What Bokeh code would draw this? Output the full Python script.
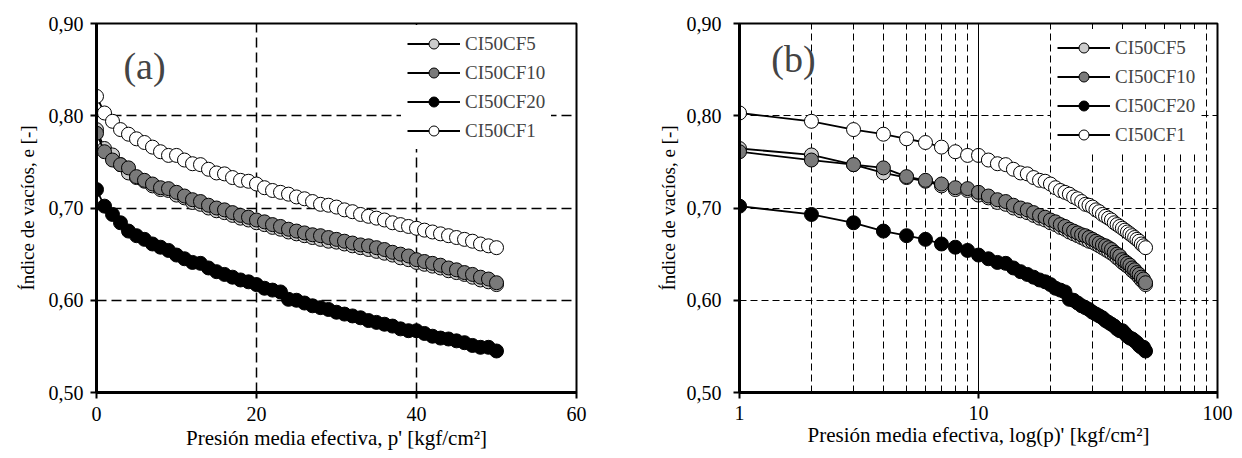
from bokeh.plotting import figure
from bokeh.models import (Range1d, FixedTicker, CustomJSTickFormatter, Legend,
                          LegendItem, Label, Span, ColumnDataSource)
from bokeh.layouts import row
from bokeh.embed import file_html
from bokeh.resources import INLINE

# ---------------- data ----------------
pressure = list(range(0, 51))  # p' [kgf/cm2]

ci50cf5 = [0.785, 0.7645, 0.7575, 0.747, 0.738, 0.733, 0.729, 0.724, 0.720, 0.719,
           0.714, 0.711, 0.706, 0.704, 0.700, 0.697, 0.695, 0.692, 0.689, 0.687,
           0.684, 0.682, 0.679, 0.677, 0.674, 0.672, 0.670, 0.668, 0.666, 0.664,
           0.663, 0.661, 0.659, 0.657, 0.655, 0.653, 0.651, 0.649, 0.646, 0.644,
           0.641, 0.639, 0.637, 0.635, 0.632, 0.630, 0.628, 0.625, 0.622, 0.620,
           0.617]
ci50cf10 = [0.781, 0.761, 0.752, 0.747, 0.7435, 0.734, 0.730, 0.726, 0.722, 0.721,
            0.717, 0.713, 0.709, 0.707, 0.703, 0.700, 0.698, 0.695, 0.692, 0.690,
            0.687, 0.685, 0.682, 0.680, 0.677, 0.675, 0.673, 0.671, 0.670, 0.668,
            0.666, 0.664, 0.662, 0.660, 0.659, 0.657, 0.655, 0.652, 0.650, 0.648,
            0.644, 0.642, 0.640, 0.638, 0.635, 0.633, 0.630, 0.628, 0.625, 0.623,
            0.619]
ci50cf20 = [0.720, 0.702, 0.693, 0.684, 0.675, 0.670, 0.666, 0.661, 0.6575, 0.654,
            0.649, 0.645, 0.641, 0.640, 0.635, 0.631, 0.628, 0.625, 0.622, 0.620,
            0.617, 0.613, 0.611, 0.609, 0.601, 0.600, 0.597, 0.594, 0.592, 0.590,
            0.587, 0.585, 0.583, 0.581, 0.578, 0.576, 0.574, 0.572, 0.569, 0.567,
            0.567, 0.564, 0.561, 0.559, 0.558, 0.556, 0.554, 0.551, 0.549, 0.549,
            0.545]
ci50cf1 = [0.821, 0.803, 0.794, 0.785, 0.780, 0.775, 0.771, 0.766, 0.761, 0.757,
           0.757, 0.752, 0.748, 0.747, 0.742, 0.738, 0.737, 0.733, 0.730, 0.729,
           0.726, 0.722, 0.719, 0.717, 0.715, 0.712, 0.710, 0.707, 0.704, 0.703,
           0.701, 0.698, 0.696, 0.693, 0.691, 0.689, 0.687, 0.684, 0.682, 0.680,
           0.678, 0.676, 0.674, 0.672, 0.670, 0.668, 0.666, 0.664, 0.661, 0.659,
           0.657]

series_names = ["CI50CF5", "CI50CF10", "CI50CF20", "CI50CF1"]
series_values = [ci50cf5, ci50cf10, ci50cf20, ci50cf1]
series_fills = ["#cccccc", "#7a7a7a", "#000000", "#ffffff"]

y_ticks = [0.5, 0.6, 0.7, 0.8, 0.9]
y_grid = [0.6, 0.7, 0.8]
lin_x_ticks = [0, 20, 40, 60]
lin_x_grid = [20, 40]
log_x_ticks = [1, 10, 100]
log_x_grid = [2, 3, 4, 5, 6, 7, 8, 9, 20, 30, 40, 50, 60, 70, 80, 90]

FONT = "Liberation Serif"
y_title = "Índice de vacíos, e [-]"


def style(p, xlabel):
    p.outline_line_color = "black"
    p.outline_line_width = 2
    p.outline_line_alpha = 1
    for ax in (p.xaxis[0], p.yaxis[0]):
        ax.axis_line_width = 3
        ax.axis_line_color = "black"
        ax.major_tick_line_color = "black"
        ax.major_tick_line_width = 2
        ax.major_tick_in = 0
        ax.major_tick_out = 6
        ax.minor_tick_in = 0
        ax.minor_tick_out = 0
        ax.major_label_text_font = FONT
        ax.major_label_text_font_size = "20px"
        ax.major_label_text_color = "black"
        ax.axis_label_text_font = FONT
        ax.axis_label_text_font_style = "normal"
        ax.axis_label_text_color = "black"
    p.xaxis[0].axis_label_text_font_size = "21px"
    p.yaxis[0].axis_label_text_font_size = "19px"
    p.yaxis[0].ticker = FixedTicker(ticks=y_ticks)
    p.yaxis[0].formatter = CustomJSTickFormatter(
        code="return tick.toFixed(2).replace('.', ',');")
    p.yaxis[0].axis_label = y_title
    p.xaxis[0].axis_label = xlabel
    p.ygrid.ticker = FixedTicker(ticks=y_grid)
    p.ygrid.grid_line_color = "black"
    p.ygrid.grid_line_dash = "10 5"
    p.ygrid.grid_line_width = 1.5


def add_series(p, xs, ys_list):
    items = []
    for name, ys, fill in zip(series_names, ys_list, series_fills):
        src = ColumnDataSource(dict(x=xs, y=ys))
        ln = p.line("x", "y", source=src, line_color="black", line_width=1.8)
        sc = p.scatter("x", "y", source=src, size=14, fill_color=fill,
                       line_color="black", line_width=1)
        items.append(LegendItem(label=name, renderers=[ln, sc]))
    return items


def make_legend(items, loc):
    lg = Legend(items=items, location=loc, glyph_width=53, glyph_height=25,
                label_height=25, spacing=4, padding=6, label_standoff=5,
                label_text_font=FONT, label_text_font_size="19px",
                border_line_alpha=0, background_fill_color="white",
                background_fill_alpha=1, margin=0)
    return lg


# ---------------- panel (a) ----------------
pa = figure(width=600, height=458, x_range=Range1d(0, 60),
            y_range=Range1d(0.5, 0.9), output_backend="svg",
            toolbar_location=None, min_border_left=96, min_border_right=24,
            min_border_top=19, min_border_bottom=66)
style(pa, "Presión media efectiva, p' [kgf/cm²]")
pa.xaxis[0].ticker = FixedTicker(ticks=lin_x_ticks)
pa.xgrid.ticker = FixedTicker(ticks=lin_x_grid)
pa.xgrid.grid_line_color = "black"
pa.xgrid.grid_line_dash = "10 5"
pa.xgrid.grid_line_width = 1.5
pa.yaxis[0].major_label_standoff = 7
pa.yaxis[0].axis_label_standoff = 8
pa.xaxis[0].major_label_standoff = 8
pa.xaxis[0].axis_label_standoff = 2
items_a = add_series(pa, pressure, series_values)
pa.add_layout(make_legend(items_a, (305, 243)))
pa.add_layout(Label(x=48, y=327, x_units="screen", y_units="screen",
                    text="(a)", text_font=FONT, text_font_size="38px",
                    text_align="center", text_baseline="middle"))

# ---------------- panel (b) ----------------
pb = figure(width=642, height=458, x_axis_type="log", x_range=Range1d(1, 100),
            y_range=Range1d(0.5, 0.9), output_backend="svg",
            toolbar_location=None, min_border_left=139, min_border_right=25,
            min_border_top=23, min_border_bottom=55)
style(pb, "Presión media efectiva, log(p)' [kgf/cm²]")
pb.xaxis[0].ticker = FixedTicker(ticks=log_x_ticks)
pb.xaxis[0].formatter = CustomJSTickFormatter(code="return String(tick);")
pb.xgrid.ticker = FixedTicker(ticks=log_x_grid)
pb.xgrid.grid_line_color = "black"
pb.xgrid.grid_line_dash = "7 4"
pb.xgrid.grid_line_width = 1
pb.ygrid.grid_line_dash = "7 4"
pb.ygrid.grid_line_width = 1
pb.add_layout(Span(location=10, dimension="height", line_color="black",
                   line_width=1))
pb.yaxis[0].major_label_standoff = 12
pb.yaxis[0].axis_label_standoff = 5
pb.xaxis[0].major_label_standoff = 7
pb.xaxis[0].axis_label_standoff = 0
items_b = add_series(pb, pressure[1:], [s[1:] for s in series_values])
pb.add_layout(make_legend(items_b, (312, 239)))
pb.add_layout(Label(x=54, y=334, x_units="screen", y_units="screen",
                    text="(b)", text_font=FONT, text_font_size="38px",
                    text_align="center", text_baseline="middle"))

layout = row(pa, pb)
open("out.html", "w").write(file_html(layout, INLINE))
